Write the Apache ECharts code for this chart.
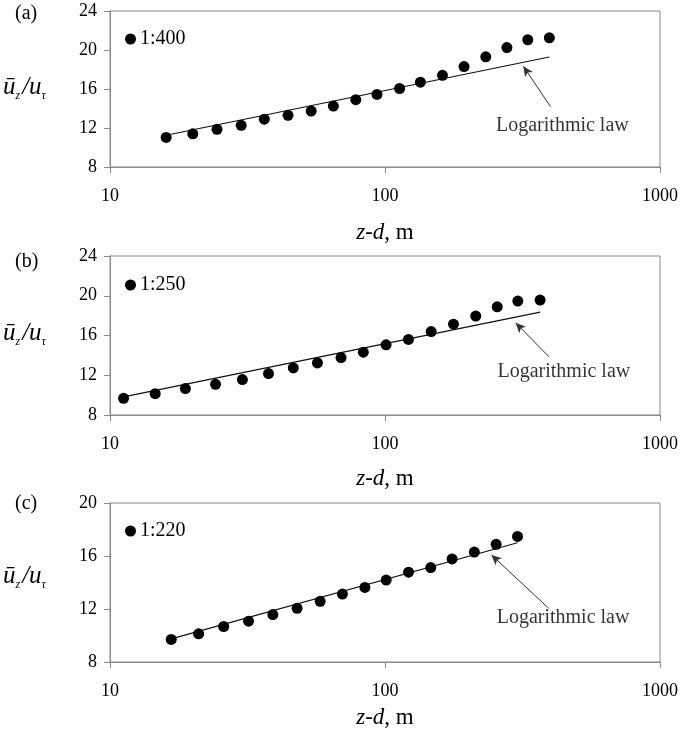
<!DOCTYPE html>
<html>
<head>
<meta charset="utf-8">
<script src="https://cdn.jsdelivr.net/npm/echarts@6/dist/echarts.min.js"></script>
<style>
  html, body { margin: 0; padding: 0; background: #fff; }
  #chart { width: 681px; height: 735px; }
</style>
</head>
<body>
<div id="chart"></div>
<script>
// Mean velocity profiles u_z/u_tau against z-d (log scale) for three model scales.
const panelTags = ['(a)', '(b)', '(c)'];
const scaleNames = ['1:400', '1:250', '1:220'];
const yMax = [24, 24, 20];
const yMin = 8;
const yStep = 4;

// panel (a) 1:400
const zA = [16.0, 20.0, 24.5, 30.0, 36.4, 44.4, 53.9, 64.9, 78.3, 93.5, 113, 134.5, 161.8, 193.8, 232.5, 277.5, 330.5, 396];
const uA = [11.03, 11.4, 11.87, 12.28, 12.9, 13.3, 13.74, 14.25, 14.9, 15.44, 16.05, 16.7, 17.4, 18.3, 19.3, 20.25, 21.05, 21.25];
// panel (b) 1:250
const zB = [11.2, 14.6, 18.8, 24.2, 30.3, 37.7, 46.4, 56.8, 69.2, 83.4, 100.9, 121.7, 147.2, 177.4, 213.8, 255.9, 304, 366.5];
const uB = [9.68, 10.15, 10.66, 11.09, 11.56, 12.17, 12.74, 13.24, 13.78, 14.32, 15.06, 15.6, 16.4, 17.14, 17.95, 18.89, 19.46, 19.56];
// panel (c) 1:220
const zC = [16.7, 21.0, 25.9, 31.9, 39.1, 47.9, 58.1, 70.0, 84.5, 101, 121.8, 146.7, 175.4, 211.3, 253.6, 303.3];
const uC = [9.7, 10.13, 10.68, 11.08, 11.58, 12.05, 12.58, 13.13, 13.63, 14.18, 14.78, 15.13, 15.78, 16.3, 16.88, 17.48];

// logarithmic law, end points of each fitted line
const lawZA = [16, 396];     const lawUA = [11.26, 19.28];
const lawZB = [11.2, 366.5]; const lawUB = [9.82, 18.35];
const lawZC = [16.7, 303.3]; const lawUC = [9.75, 17.0];

const lawLabel = 'Logarithmic law';

const serif = '"Liberation Serif", "Times New Roman", serif';
const axisGray = '#8a8a8a';
const ink = '#000';

const panels = [
  { z: zA, u: uA, lz: lawZA, lu: lawUA, top: 11, height: 156, nameGap: 54,
    arrow: [[400, 14.18], [318.5, 18.33]], label: [441.6, 12.21], legendTop: 24, tagY: 15, titleY: 90 },
  { z: zB, u: uB, lz: lawZB, lu: lawUB, top: 256, height: 159, nameGap: 52,
    arrow: [[395, 13.85], [298.5, 17.28]], label: [447, 12.4], legendTop: 270, tagY: 263, titleY: 336 },
  { z: zC, u: uC, lz: lawZC, lu: lawUC, top: 503, height: 159, nameGap: 44,
    arrow: [[394, 12.05], [243.8, 16.08]], label: [444, 11.33], legendTop: 516, tagY: 505, titleY: 579 }
];

const grids = [], xAxes = [], yAxes = [], series = [], legends = [], graphics = [];

panels.forEach((p, i) => {
  grids.push({ left: 110, top: p.top, width: 553, height: p.height,
    show: true, borderColor: axisGray, borderWidth: 1, backgroundColor: 'transparent' });

  xAxes.push({
    type: 'log', logBase: 10, gridIndex: i, min: 10, max: 1000,
    axisLine: { show: true, lineStyle: { color: axisGray, width: 1 } },
    axisTick: { show: true, inside: false, length: 6, lineStyle: { color: axisGray } },
    minorTick: { show: false },
    splitLine: { show: false },
    axisLabel: { fontFamily: serif, fontSize: 18, color: ink, margin: 20,
      formatter: v => String(Math.round(v)) },
    name: '{i|z}-{i|d}, m',
    nameLocation: 'middle', nameGap: p.nameGap,
    nameTextStyle: { fontFamily: serif, fontSize: 23, color: ink,
      rich: { i: { fontFamily: serif, fontSize: 23, fontStyle: 'italic', color: ink } } }
  });

  yAxes.push({
    type: 'value', gridIndex: i, min: yMin, max: yMax[i], interval: yStep,
    axisLine: { show: true, lineStyle: { color: axisGray, width: 1 } },
    axisTick: { show: true, inside: false, length: 6, lineStyle: { color: axisGray } },
    splitLine: { show: false },
    axisLabel: { fontFamily: serif, fontSize: 18, color: ink, margin: 13 }
  });

  series.push({
    name: scaleNames[i], type: 'scatter', xAxisIndex: i, yAxisIndex: i,
    symbol: 'circle', symbolSize: 11,
    itemStyle: { color: '#000', opacity: 1 },
    data: p.z.map((z, k) => [z, p.u[k]]),
    z: 3
  });

  series.push({
    name: 'law' + i, type: 'line', xAxisIndex: i, yAxisIndex: i,
    showSymbol: false, symbol: 'none',
    lineStyle: { color: '#111', width: 1.2 },
    data: p.lz.map((z, k) => [z, p.lu[k]]),
    silent: true,
    markLine: {
      silent: true, symbol: ['none', 'arrow'], symbolSize: [7, 10],
      lineStyle: { color: '#333', width: 1, type: 'solid' },
      label: { show: false },
      data: [[{ coord: p.arrow[0] }, { coord: p.arrow[1] }]]
    },
    z: 2
  });

  series.push({
    name: 'lawLabel' + i, type: 'scatter', xAxisIndex: i, yAxisIndex: i,
    symbolSize: 0, silent: true,
    label: { show: true, position: 'inside', formatter: lawLabel,
      fontFamily: serif, fontSize: 20, color: ink },
    data: [p.label]
  });

  legends.push({
    data: [{ name: scaleNames[i], icon: 'circle', itemStyle: { color: '#000', opacity: 1 } }],
    left: 120, top: p.legendTop,
    itemWidth: 11, itemHeight: 11, itemGap: 5,
    textStyle: { fontFamily: serif, fontSize: 20, color: ink, padding: [0, 0, 0, -1] },
    selectedMode: false
  });

  graphics.push({
    type: 'text', left: 15, top: p.tagY - 11,
    style: { text: panelTags[i], font: '20px ' + serif, fill: ink }
  });

  graphics.push({
    type: 'text', left: 3, top: p.titleY - 15,
    style: {
      text: '{i|ū}{s|z}{i|/u}{s|τ}',
      rich: {
        i: { fontFamily: serif, fontSize: 25, fontStyle: 'italic', fill: ink, lineHeight: 28 },
        s: { fontFamily: serif, fontSize: 12, fontStyle: 'italic', fill: ink, verticalAlign: 'bottom',
             lineHeight: 12, padding: [0, 2, 0, 0] }
      }
    }
  });
});

const chart = echarts.init(document.getElementById('chart'), null, { renderer: 'canvas' });
chart.setOption({
  animation: false,
  backgroundColor: '#fff',
  grid: grids,
  xAxis: xAxes,
  yAxis: yAxes,
  legend: legends,
  series: series,
  graphic: graphics
});
</script>
</body>
</html>
